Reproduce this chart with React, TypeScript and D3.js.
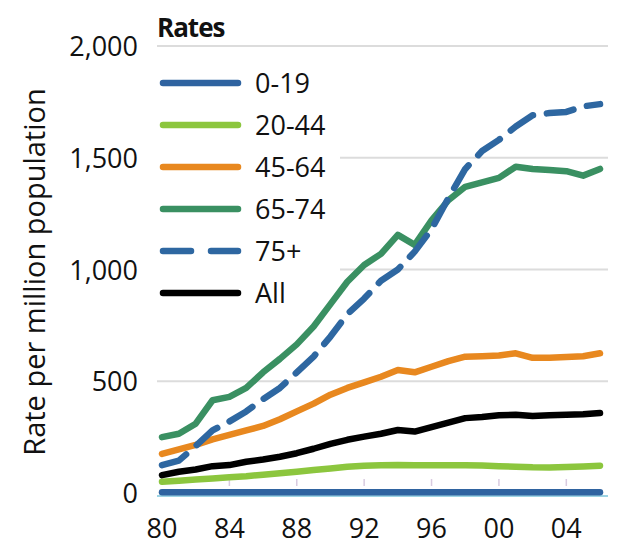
import React, { useEffect, useRef } from 'react';
import * as d3 from 'd3';

const years = d3.range(1980, 2007);

const rate0to19 = [3, 3, 3, 3, 3, 3, 3, 3, 3, 3, 3, 3, 3, 3, 3, 3, 3, 3, 3, 3, 3, 3, 3, 3, 3, 3, 3];
const rate20to44 = [50, 55, 60, 65, 70, 75, 82, 88, 95, 103, 110, 117, 122, 124, 125, 124, 124, 124, 124, 123, 120, 118, 115, 114, 116, 119, 122];
const rate45to64 = [175, 195, 215, 240, 260, 280, 300, 330, 365, 400, 440, 470, 495, 520, 550, 540, 565, 590, 610, 612, 615, 625, 605, 605, 608, 612, 625];
const rate65to74 = [250, 265, 310, 415, 430, 470, 540, 600, 665, 745, 845, 945, 1020, 1070, 1155, 1110, 1220, 1310, 1370, 1390, 1410, 1460, 1450, 1445, 1440, 1420, 1450];
const rate75plus = [125, 145, 210, 280, 320, 365, 420, 470, 540, 610, 700, 800, 870, 950, 1000, 1080, 1180, 1320, 1450, 1530, 1580, 1640, 1690, 1700, 1705, 1730, 1740];
const rateAll = [80, 95, 105, 120, 125, 140, 150, 162, 178, 198, 220, 238, 252, 265, 282, 275, 295, 315, 335, 340, 348, 350, 345, 348, 350, 352, 358];

const yTicks = [0, 500, 1000, 1500, 2000];
const xTicks = [1980, 1984, 1988, 1992, 1996, 2000, 2004];

const series = [
  { name: '0-19', values: rate0to19, color: '#2f63a0', dash: null },
  { name: '20-44', values: rate20to44, color: '#8cc63e', dash: null },
  { name: '45-64', values: rate45to64, color: '#e8881f', dash: null },
  { name: '65-74', values: rate65to74, color: '#3a9062', dash: null },
  { name: '75+', values: rate75plus, color: '#2e67a1', dash: '27 14' },
  { name: 'All', values: rateAll, color: '#000000', dash: null },
];

const font = '"Open Sans", sans-serif';

const App = () => {
  const svgRef = useRef<SVGSVGElement | null>(null);
  const width = 621;
  const height = 552;

  useEffect(() => {
    if (!svgRef.current) return;
    const svg = d3.select(svgRef.current);
    svg.selectAll('*').remove();

    const x = d3.scaleLinear().domain([1980, 2006]).range([162, 600]);
    const y = d3.scaleLinear().domain([0, 2000]).range([493, 46]);

    svg.append('rect').attr('width', width).attr('height', height).attr('fill', '#fff');

    // gridlines
    svg.append('g')
      .selectAll('line')
      .data(yTicks.filter(d => d > 0))
      .join('line')
      .attr('x1', 157)
      .attr('x2', 608)
      .attr('y1', d => y(d))
      .attr('y2', d => y(d))
      .attr('stroke', '#dcdcdc')
      .attr('stroke-width', 2);

    // axis base line and small ticks
    svg.append('line')
      .attr('x1', 157).attr('x2', 608)
      .attr('y1', y(0) + 3).attr('y2', y(0) + 3)
      .attr('stroke', '#9cd3e3').attr('stroke-width', 2);

    svg.append('g')
      .selectAll('line')
      .data(xTicks.slice(1))
      .join('line')
      .attr('x1', d => x(d))
      .attr('x2', d => x(d))
      .attr('y1', y(0) - 14)
      .attr('y2', y(0) - 7)
      .attr('stroke', '#d9cbe0')
      .attr('stroke-width', 1.5);

    // y tick labels
    svg.append('g')
      .selectAll('text')
      .data(yTicks)
      .join('text')
      .attr('x', 138)
      .attr('y', d => y(d) + 10)
      .attr('text-anchor', 'end')
      .style('font-family', font)
      .style('font-size', '27px')
      .attr('fill', '#111')
      .text(d => d3.format(',')(d));

    // x tick labels
    svg.append('g')
      .selectAll('text')
      .data(xTicks)
      .join('text')
      .attr('x', d => x(d))
      .attr('y', 538)
      .attr('text-anchor', 'middle')
      .style('font-family', font)
      .style('font-size', '27px')
      .attr('fill', '#111')
      .text(d => String(d).slice(2));

    // y title
    svg.append('text')
      .attr('transform', 'translate(45, 272) rotate(-90)')
      .attr('text-anchor', 'middle')
      .style('font-family', font)
      .style('font-size', '29px')
      .attr('fill', '#111')
      .text('Rate per million population');

    // legend backdrop
    svg.append('rect')
      .attr('x', 150).attr('y', 62).attr('width', 190).attr('height', 240)
      .attr('fill', '#fff');

    // lines
    const line = d3.line<number>()
      .x((_, i) => x(years[i]))
      .y(d => y(d));

    svg.append('g')
      .selectAll('path')
      .data(series)
      .join('path')
      .attr('d', d => line(d.values))
      .attr('fill', 'none')
      .attr('stroke', d => d.color)
      .attr('stroke-width', 6.5)
      .attr('stroke-linejoin', 'round')
      .attr('stroke-linecap', 'round')
      .attr('stroke-dasharray', d => d.dash);

    // legend
    svg.append('text')
      .attr('x', 157)
      .attr('y', 37)
      .style('font-family', font)
      .style('font-size', '26px')
      .style('font-weight', 700)
      .style('letter-spacing', '-1px')
      .attr('fill', '#111')
      .text('Rates');

    const legend = svg.append('g')
      .selectAll('g')
      .data(series)
      .join('g')
      .attr('transform', (_, i) => `translate(0, ${83 + i * 42})`);

    legend.append('line')
      .attr('x1', 163).attr('x2', 238)
      .attr('stroke', d => d.color)
      .attr('stroke-width', 6.5)
      .attr('stroke-linecap', 'round')
      .attr('stroke-dasharray', d => (d.dash ? '28 20' : null));

    legend.append('text')
      .attr('x', 255)
      .attr('y', 10)
      .style('font-family', font)
      .style('font-size', '27px')
      .attr('fill', '#111')
      .text(d => d.name);
  }, []);

  return <svg ref={svgRef} width={width} height={height} style={{ display: 'block', margin: -8 }} />;
};

export default App;
